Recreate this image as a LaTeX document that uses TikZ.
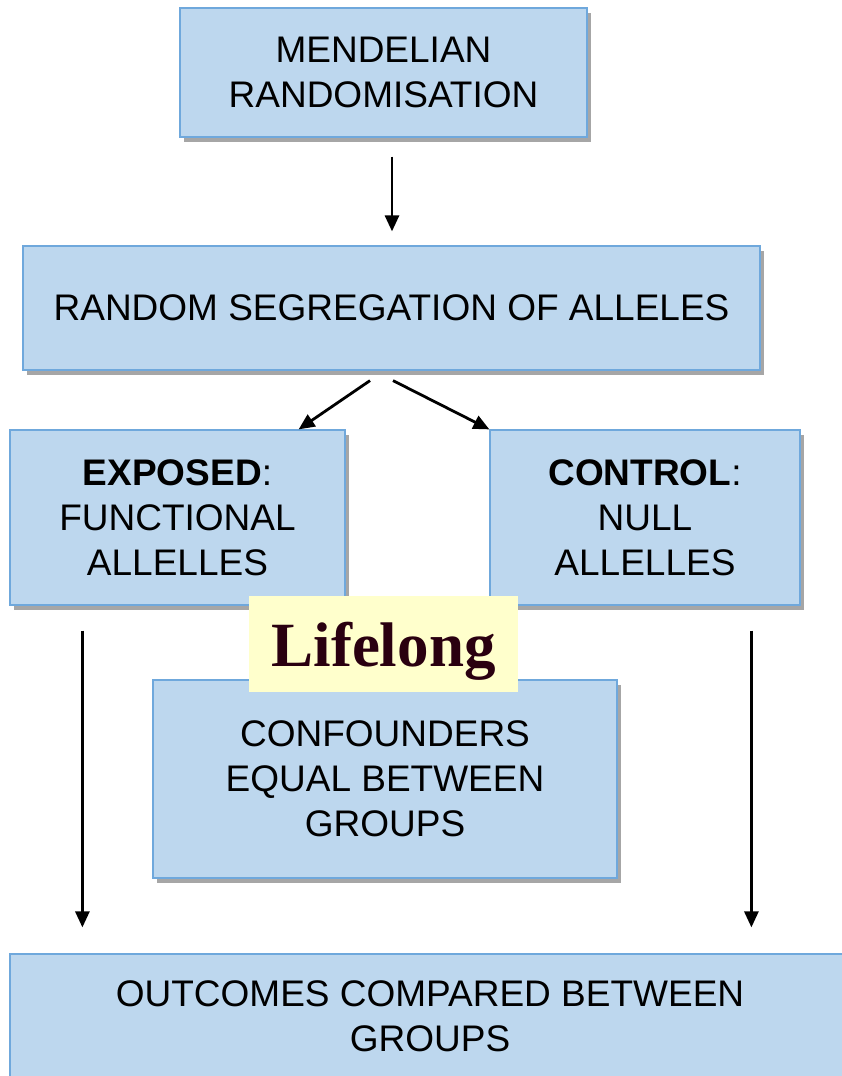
\documentclass[tikz,border=0pt]{standalone}
\usepackage{fontspec}
\setmainfont{Liberation Sans}
\newfontfamily\seriffont{Liberation Serif}
\usetikzlibrary{arrows.meta,
                shadows
            }

\definecolor{boxblue}{HTML}{BDD7EE}
\definecolor{lineblue}{HTML}{6FA8DC}
\definecolor{noteyellow}{HTML}{FFFFCC}
\definecolor{notetext}{HTML}{2A0010}

\tikzset{
    stage/.style={draw=lineblue, line width=1.2pt, fill=boxblue,
        align=center, inner sep=0pt,
        font=\fontsize{37}{45}\selectfont,
        drop shadow={shadow xshift=4pt, shadow yshift=-5pt,
            fill=black, opacity=0.35}},
    arr/.style={-{Triangle[length=16pt, width=14pt]}, line width=2.8pt}
}

\begin{document}
\begin{tikzpicture}[x=1pt, y=-1pt]
            \useasboundingbox (0,0) rectangle (842,1076);
            \node[stage, minimum width=407pt, minimum height=129pt] (mr) at (383.5, 72.5) {MENDELIAN\\RANDOMISATION};
            \node[stage, minimum width=737pt, minimum height=124pt] (rs) at (391.5, 308) {RANDOM SEGREGATION OF ALLELES};
            \node[stage, minimum width=335pt, minimum height=175pt] (ex) at (177.5, 517.5) {\textbf{EXPOSED}:\\FUNCTIONAL\\ALLELLES};
            \node[stage, minimum width=310pt, minimum height=175pt] (ct) at (645, 517.5) {\textbf{CONTROL}:\\NULL\\ALLELLES};
            \node[stage, minimum width=464pt, minimum height=198pt] (cf) at (385, 779) {CONFOUNDERS\\EQUAL BETWEEN\\GROUPS};
            \node[stage, minimum width=840pt, minimum height=124pt] (oc) at (430, 1016) {OUTCOMES COMPARED BETWEEN\\GROUPS};
            \node[fill=noteyellow, text=notetext, minimum width=269pt, minimum height=96pt,
                font=\seriffont\bfseries\fontsize{63}{70}\selectfont] (ll) at (383.5, 644) {\raisebox{0pt}[45pt][0pt]{Lifelong}};
            \draw[arr] ([xshift=8.5pt, yshift=-19pt]mr.south) -- ([xshift=0.5pt, yshift=14pt]rs.north);
            \draw[arr] ([xshift=-21.5pt, yshift=-10pt]rs.south) -- ([xshift=-47pt]ex.north east);
            \draw[arr] ([xshift=1.5pt, yshift=-10pt]rs.south) -- (ct.north west);
            \draw[arr] ([xshift=73pt, yshift=-25pt]ex.south west) -- ([xshift=73pt, yshift=26pt]oc.north west);
            \draw[arr] ([xshift=262pt, yshift=-25pt]ct.south west) -- ([xshift=742pt, yshift=26pt]oc.north west);
        \end{tikzpicture}
\end{document}
